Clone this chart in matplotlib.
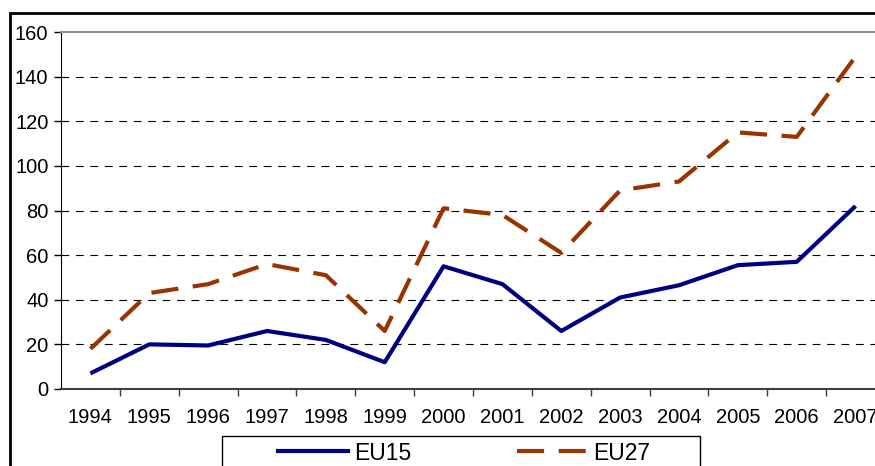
import matplotlib
matplotlib.use("Agg")
import matplotlib.pyplot as plt
from matplotlib.patches import Rectangle
from matplotlib.lines import Line2D

plt.rcParams['font.family'] = ['Liberation Sans', 'DejaVu Sans']

years = ["1994", "1995", "1996", "1997", "1998", "1999", "2000",
         "2001", "2002", "2003", "2004", "2005", "2006", "2007"]
eu15 = [7, 20, 19.5, 26, 22, 12, 55, 47, 26, 41, 46.5, 55.5, 57, 82]
eu27 = [18, 43, 47, 56, 51, 26, 81, 78, 61, 89, 93, 115, 113, 149]
y_ticks = [0, 20, 40, 60, 80, 100, 120, 140, 160]

W, H = 875, 466
fig = plt.figure(figsize=(W / 100, H / 100), dpi=100)

# axes extends slightly past the right edge, as in the reference
left, right, top, bottom = 61, 885, 32, 389
ax = fig.add_axes([left / W, 1 - bottom / H, (right - left) / W, (bottom - top) / H])

x = list(range(len(years)))
blue = "#000080"
brown = "#993300"
ax.plot(x, eu15, color=blue, lw=3, solid_capstyle="butt", label="EU15")
ax.plot(x, eu27, color=brown, lw=3, linestyle=(0, (6.5, 3.5)), label="EU27")

ax.set_xlim(-0.5, len(years) - 0.5)
ax.set_ylim(0, 160)
ax.set_yticks(y_ticks)
ax.set_xticks(x)
ax.set_xticklabels(years)
ax.set_xticks([i - 0.5 for i in range(1, len(years))], minor=True)

ax.tick_params(axis="x", which="major", length=0, pad=14, labelsize=14.5)
ax.tick_params(axis="x", which="minor", length=5, width=1, color="#404040")
ax.tick_params(axis="y", length=5, width=1, pad=4, labelsize=14.5)

ax.grid(axis="y", color="black", lw=0.8, linestyle=(0, (7, 6)))
grid = ax.get_ygridlines()
grid[0].set_visible(False)
grid[-1].set_visible(False)

ax.spines["left"].set_color("black")
ax.spines["bottom"].set_color("#404040")
ax.spines["bottom"].set_linewidth(1.5)
ax.spines["top"].set_color("#909090")
ax.spines["top"].set_linewidth(1.5)
ax.spines["right"].set_visible(False)

# outer chart frame (cut by the image edge)
fig.patches.append(Rectangle((10 / W, -0.1), 2, 1.1 - 13 / H, transform=fig.transFigure,
                             fill=False, edgecolor="black", lw=2))
# legend box
fig.patches.append(Rectangle((222 / W, -0.05), (700 - 222) / W, 0.05 + 1 - 436 / H,
                             transform=fig.transFigure, fill=False, edgecolor="black", lw=1))

handles = [Line2D([], [], color=blue, lw=3),
           Line2D([], [], color=brown, lw=3, linestyle=(0, (6.5, 3.5)))]
fig.legend(handles, ["EU15", "EU27"], loc="center", bbox_to_anchor=(464 / W, 1 - 453 / H),
           ncol=2, frameon=False, fontsize=16.5, handlelength=3.05, handletextpad=0.26,
           columnspacing=4.6, borderpad=0)

fig.savefig("out.png", dpi=100)
